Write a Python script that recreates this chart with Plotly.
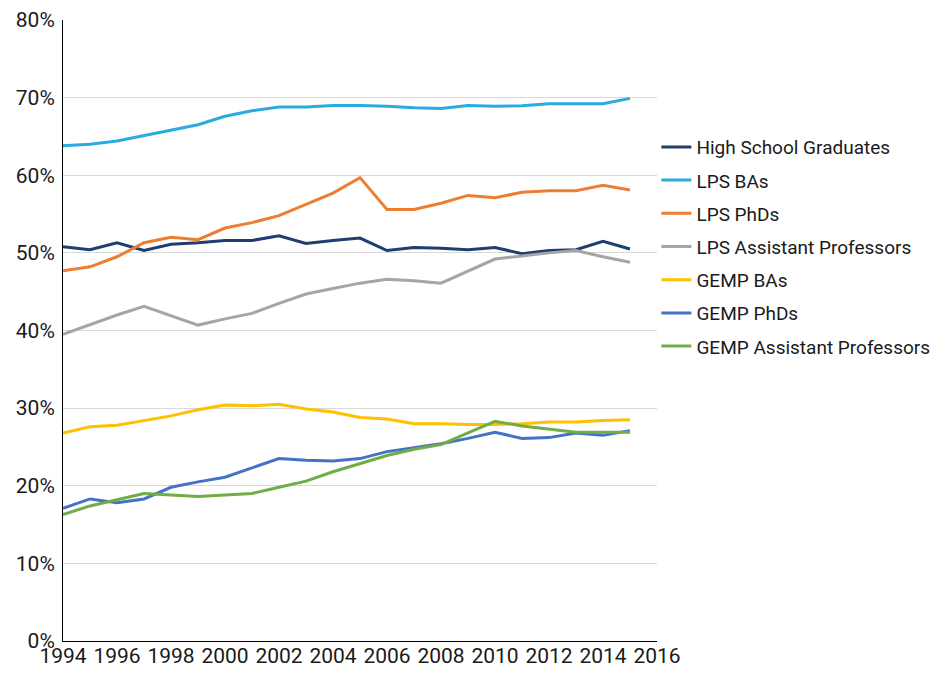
import plotly.graph_objects as go

years = list(range(1994, 2016))

high_school = [50.8, 50.4, 51.3, 50.3, 51.1, 51.3, 51.6, 51.6, 52.2, 51.2, 51.6, 51.9,
               50.3, 50.7, 50.6, 50.4, 50.7, 49.9, 50.3, 50.4, 51.5, 50.5]
lps_bas = [63.8, 64.0, 64.4, 65.1, 65.8, 66.5, 67.6, 68.3, 68.8, 68.8, 69.0, 69.0,
           68.9, 68.7, 68.6, 69.0, 68.9, 68.95, 69.2, 69.2, 69.2, 69.9]
lps_phds = [47.7, 48.2, 49.5, 51.3, 52.0, 51.7, 53.2, 53.9, 54.8, 56.3, 57.7, 59.7,
            55.6, 55.6, 56.4, 57.4, 57.1, 57.8, 58.0, 58.0, 58.7, 58.1]
lps_asst = [39.5, 40.8, 42.0, 43.1, 41.9, 40.7, 41.5, 42.2, 43.5, 44.7, 45.4, 46.1,
            46.6, 46.4, 46.1, 47.7, 49.2, 49.6, 50.0, 50.3, 49.5, 48.8]
gemp_bas = [26.8, 27.6, 27.8, 28.4, 29.0, 29.8, 30.4, 30.3, 30.5, 29.9, 29.5, 28.8,
            28.6, 28.0, 28.0, 27.9, 27.9, 28.0, 28.2, 28.2, 28.4, 28.5]
gemp_phds = [17.1, 18.3, 17.8, 18.3, 19.8, 20.5, 21.1, 22.3, 23.5, 23.3, 23.2, 23.5,
             24.4, 24.9, 25.4, 26.1, 26.9, 26.1, 26.2, 26.8, 26.5, 27.1]
gemp_asst = [16.3, 17.4, 18.2, 19.0, 18.8, 18.6, 18.8, 19.0, 19.8, 20.6, 21.8, 22.8,
             23.9, 24.7, 25.3, 26.8, 28.3, 27.7, 27.3, 26.9, 26.9, 26.9]

series = [
    ("High School Graduates", high_school, "#203D70"),
    ("LPS BAs", lps_bas, "#29ABE2"),
    ("LPS PhDs", lps_phds, "#ED7D31"),
    ("LPS Assistant Professors", lps_asst, "#A5A5A5"),
    ("GEMP BAs", gemp_bas, "#FFC000"),
    ("GEMP PhDs", gemp_phds, "#4472C4"),
    ("GEMP Assistant Professors", gemp_asst, "#70AD47"),
]

font_family = "Roboto, sans-serif"

fig = go.Figure()
for i, (name, vals, color) in enumerate(series):
    fig.add_trace(go.Scatter(
        x=years, y=[v / 100 for v in vals], mode="lines", name=name,
        legendgroup="g%d" % i,
        line=dict(color=color, width=3),
    ))

# page body has an 8px default margin: the figure is sized to fit the window
fig.update_layout(
    width=935, height=668,
    margin=dict(l=55, r=286, t=12, b=35, autoexpand=False),
    paper_bgcolor="white", plot_bgcolor="white",
    font=dict(family=font_family, size=21, color="#1a1a1a"),
    showlegend=True,
    legend=dict(x=0.999, y=0.826, xanchor="left", yanchor="top",
                font=dict(family=font_family, size=19, color="#1a1a1a"),
                itemwidth=30, tracegroupgap=5.5, bgcolor="rgba(0,0,0,0)"),
    xaxis=dict(range=[1994, 2016], tickmode="linear", tick0=1994, dtick=2,
               showgrid=False, showline=True, linecolor="black", linewidth=1,
               ticks="", zeroline=False, tickfont=dict(size=21), tickangle=0,
               ticklabelstandoff=-4, automargin=False),
    yaxis=dict(range=[0, 0.8], tickmode="linear", tick0=0, dtick=0.1,
               tickformat=".0%", showgrid=True, gridcolor="#D9D9D9", gridwidth=1,
               showline=True, linecolor="black", linewidth=1, ticks="",
               ticklabelstandoff=3,
               zeroline=False, tickfont=dict(size=21), automargin=False),
)

fig.write_html("out.html")
